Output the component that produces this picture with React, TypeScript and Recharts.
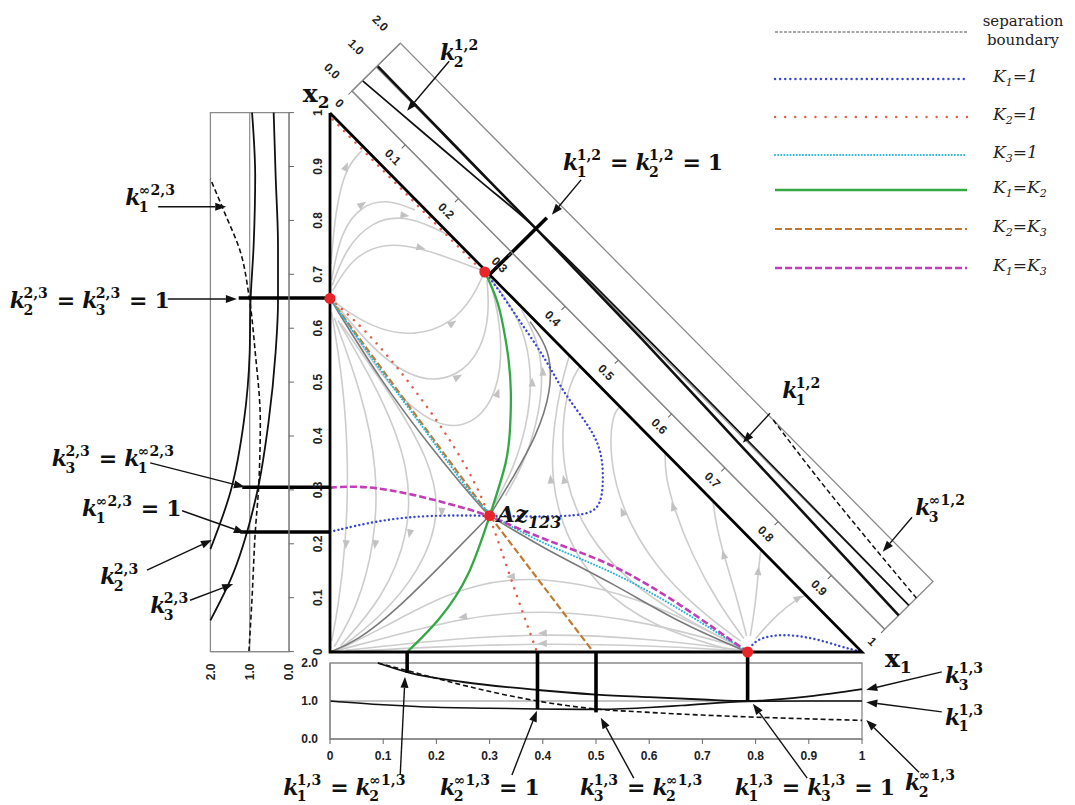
import React from 'react';
import {
  ComposedChart, Line, Scatter, XAxis, YAxis, ReferenceLine, ReferenceDot, ReferenceArea, Legend,
} from 'recharts';

// ---------- tick labels ----------
const TICKS_01 = [0, 0.1, 0.2, 0.3, 0.4, 0.5, 0.6, 0.7, 0.8, 0.9, 1];
const V_TICKS = [0, 1, 2];

// ---------- main ternary diagram (x1, x2) ----------
const TRIANGLE = [[0, 1], [0, 0], [1, 0], [0, 1]];
const AZEOTROPES = [[0, 0.656], [0.291, 0.705], [0.3, 0.253], [0.785, 0]];

const SEP_A = [[0, 0.656], [0.094, 0.505], [0.188, 0.381], [0.282, 0.27], [0.3, 0.253]];
const SEP_B = [[0.3, 0.253], [0.345, 0.325], [0.388, 0.4], [0.417, 0.486], [0.414, 0.56], [0.376, 0.613]];
const SEP_C = [[0.3, 0.253], [0.219, 0.171], [0.125, 0.078], [0.05, 0.02], [0, 0]];
const SEP_D = [[0.3, 0.253], [0.407, 0.189], [0.533, 0.127], [0.658, 0.053], [0.785, 0]];

const K1_EQ_1_A = [[0, 0.223], [0.094, 0.245], [0.188, 0.254], [0.3, 0.253], [0.376, 0.251], [0.45, 0.252], [0.489, 0.257], [0.508, 0.272], [0.514, 0.31], [0.512, 0.37], [0.489, 0.418], [0.439, 0.48], [0.407, 0.542], [0.351, 0.622], [0.313, 0.678], [0.291, 0.705]];
const K1_EQ_1_B = [[0.785, 0], [0.8, 0.025], [0.85, 0.034], [0.91, 0.026], [0.96, 0.01], [1, 0]];
const K2_EQ_1_A = [[0.005, 0.988], [0.288, 0.705]];
const K2_EQ_1_B = [[0, 0.656], [0.081, 0.585], [0.175, 0.468], [0.251, 0.356], [0.295, 0.27], [0.338, 0.14], [0.389, 0]];
const K3_EQ_1 = [[0, 0.656], [0.094, 0.523], [0.188, 0.4], [0.263, 0.294], [0.3, 0.253], [0.41, 0.196], [0.532, 0.15], [0.658, 0.08], [0.785, 0]];
const K1_EQ_K2 = [[0.291, 0.705], [0.315, 0.655], [0.326, 0.604], [0.337, 0.54], [0.341, 0.48], [0.339, 0.42], [0.335, 0.356], [0.3, 0.253], [0.263, 0.14], [0.207, 0.059], [0.145, 0]];
const K2_EQ_K3 = [[0, 0.656], [0.3, 0.253], [0.495, 0]];
const K1_EQ_K3 = [[0, 0.305], [0.063, 0.309], [0.156, 0.293], [0.25, 0.268], [0.3, 0.253], [0.407, 0.206], [0.532, 0.165], [0.66, 0.088], [0.785, 0]];

const STREAMLINES = [
  // right region
  [[0.745, 0.006], [0.61, 0.045], [0.5, 0.12], [0.44, 0.22], [0.415, 0.32], [0.42, 0.42], [0.435, 0.5], [0.45, 0.55]],
  [[0.765, 0.012], [0.66, 0.065], [0.56, 0.13], [0.48, 0.22], [0.44, 0.32], [0.435, 0.42], [0.45, 0.5], [0.47, 0.53]],
  [[0.772, 0.02], [0.69, 0.08], [0.61, 0.16], [0.55, 0.26], [0.525, 0.36], [0.53, 0.44], [0.545, 0.455]],
  [[0.778, 0.025], [0.73, 0.09], [0.68, 0.18], [0.645, 0.27], [0.63, 0.33], [0.63, 0.37]],
  [[0.783, 0.03], [0.765, 0.1], [0.74, 0.18], [0.725, 0.24], [0.72, 0.28]],
  [[0.79, 0.03], [0.8, 0.09], [0.805, 0.15], [0.81, 0.19]],
  [[0.8, 0.025], [0.84, 0.07], [0.88, 0.1], [0.895, 0.105]],
  // upper region
  [[0.01, 0.648], [0.08, 0.6], [0.16, 0.585], [0.23, 0.61], [0.27, 0.66], [0.288, 0.7]],
  [[0.015, 0.64], [0.09, 0.55], [0.17, 0.5], [0.24, 0.51], [0.285, 0.56], [0.3, 0.63], [0.295, 0.69]],
  [[0.02, 0.63], [0.11, 0.49], [0.2, 0.415], [0.27, 0.42], [0.315, 0.48], [0.325, 0.57], [0.31, 0.66], [0.296, 0.7]],
  [[0.31, 0.275], [0.345, 0.34], [0.37, 0.42], [0.38, 0.5], [0.37, 0.58], [0.34, 0.645], [0.3, 0.695]],
  [[0.33, 0.29], [0.37, 0.36], [0.395, 0.45], [0.4, 0.52], [0.39, 0.58], [0.36, 0.635]],
  // top-left corner
  [[0.005, 0.67], [0.04, 0.73], [0.1, 0.76], [0.17, 0.75], [0.24, 0.725], [0.285, 0.708]],
  [[0.004, 0.68], [0.03, 0.75], [0.08, 0.8], [0.14, 0.81], [0.2, 0.785], [0.23, 0.77]],
  [[0.003, 0.69], [0.02, 0.78], [0.06, 0.83], [0.11, 0.84], [0.16, 0.82]],
  [[0.002, 0.72], [0.01, 0.82], [0.03, 0.9], [0.06, 0.93]],
  // left region
  [[0.003, 0.63], [0.025, 0.5], [0.035, 0.35], [0.03, 0.2], [0.015, 0.08], [0.003, 0.02]],
  [[0.008, 0.62], [0.06, 0.48], [0.09, 0.34], [0.085, 0.2], [0.05, 0.08], [0.008, 0.01]],
  [[0.015, 0.615], [0.1, 0.47], [0.15, 0.34], [0.15, 0.22], [0.1, 0.1], [0.02, 0.012]],
  [[0.02, 0.61], [0.12, 0.47], [0.185, 0.36], [0.21, 0.26], [0.17, 0.15], [0.09, 0.06], [0.02, 0.008]],
  // bottom region
  [[0.775, 0.002], [0.6, 0.012], [0.4, 0.016], [0.2, 0.01], [0.04, 0.001]],
  [[0.77, 0.004], [0.6, 0.025], [0.4, 0.035], [0.2, 0.022], [0.03, 0.003]],
  [[0.765, 0.01], [0.6, 0.055], [0.42, 0.08], [0.25, 0.065], [0.1, 0.025], [0.01, 0.002]],
  [[0.76, 0.014], [0.62, 0.085], [0.47, 0.13], [0.34, 0.14], [0.22, 0.11], [0.1, 0.045], [0.015, 0.004]],
];

// ---------- bottom panel (binary 1-3, against x1) ----------
const B_K3 = [[0.09, 2.0], [0.15, 1.74], [0.25, 1.5], [0.39, 1.29], [0.5, 1.17], [0.6, 1.1], [0.7, 1.04], [0.785, 1.0], [0.9, 1.12], [1.0, 1.31]];
const B_K2INF = [[0.09, 2.0], [0.145, 1.8], [0.24, 1.45], [0.39, 1.0], [0.5, 0.79], [0.6, 0.7], [0.7, 0.63], [0.79, 0.58], [0.9, 0.53], [1.0, 0.49]];
const B_K1 = [[0, 1.0], [0.1, 0.9], [0.17, 0.85], [0.3, 0.81], [0.39, 0.79], [0.5, 0.78], [0.6, 0.83], [0.66, 0.88], [0.785, 0.99], [0.9, 1.0], [1.0, 1.0]];
const BOTTOM_BARS = [[0.145, 1.74], [0.39, 0.79], [0.5, 0.7], [0.785, 1.0]];

// ---------- left panel (binary 2-3, against x2) ----------
const L_K1INF = [[0, 1.02], [0.1, 0.94], [0.22, 0.86], [0.309, 0.77], [0.426, 0.73], [0.556, 0.86], [0.661, 1.02], [0.74, 1.23], [0.818, 1.66], [0.877, 2.0]];
const L_K2 = [[0.19, 2.0], [0.296, 1.49], [0.426, 1.15], [0.556, 1.0], [0.648, 0.98], [0.753, 0.9], [0.883, 0.86], [1.0, 0.94]];
const L_K3 = [[0.058, 2.0], [0.133, 1.49], [0.296, 0.81], [0.426, 0.52], [0.556, 0.34], [0.648, 0.28], [0.753, 0.28], [0.883, 0.34], [1.0, 0.39]];
const LEFT_BARS = [[0.656, 1.28], [0.305, 1.19], [0.222, 1.24]];

// ---------- diagonal panel (binary 1-2, along the x1+x2=1 side) ----------
const T_K2 = [[0, 0.43], [0.1, 0.62], [0.2, 0.81], [0.3, 1.0], [0.4, 1.04], [0.6, 1.05], [0.8, 1.03], [1.0, 1.0]];
const T_K1 = [[0, 1.05], [0.1, 1.03], [0.2, 1.01], [0.3, 1.0], [0.5, 0.93], [0.69, 0.8], [0.85, 0.69], [1.0, 0.58]];
const T_K3INF = [[0.7, 2.0], [0.8, 1.72], [0.9, 1.5], [1.0, 1.31]];
const TOP_BARS = [[0.3, 1.45]];

// ---------- annotations (main diagram coordinates) ----------
type Tok = string | [string, string];
const LABELS: { x: number; y: number; toks: Tok[] }[] = [
  { x: 0.207, y: 1.098, toks: [['2', '1,2']] },
  { x: 0.438, y: 0.894, toks: [['1', '1,2'], '=', ['2', '1,2'], '=', '1'] },
  { x: 0.85, y: 0.471, toks: [['1', '1,2']] },
  { x: 1.1, y: 0.254, toks: [['3', '∞1,2']] },
  { x: -0.385, y: 0.829, toks: [['1', '∞2,3']] },
  { x: -0.602, y: 0.638, toks: [['2', '2,3'], '=', ['3', '2,3'], '=', '1'] },
  { x: -0.523, y: 0.345, toks: [['3', '2,3'], '=', ['1', '∞2,3']] },
  { x: -0.466, y: 0.252, toks: [['1', '∞2,3'], '=', '1'] },
  { x: -0.432, y: 0.126, toks: [['2', '2,3']] },
  { x: -0.338, y: 0.072, toks: [['3', '2,3']] },
  { x: -0.088, y: -0.265, toks: [['1', '1,3'], '=', ['2', '∞1,3']] },
  { x: 0.207, y: -0.265, toks: [['2', '∞1,3'], '=', '1'] },
  { x: 0.47, y: -0.265, toks: [['3', '1,3'], '=', ['2', '∞1,3']] },
  { x: 0.761, y: -0.265, toks: [['1', '1,3'], '=', ['3', '1,3'], '=', '1'] },
  { x: 1.081, y: -0.256, toks: [['2', '∞1,3']] },
  { x: 1.156, y: -0.135, toks: [['1', '1,3']] },
  { x: 1.156, y: -0.058, toks: [['3', '1,3']] },
];
const ARROWS = [
  [0.224, 1.096, 0.145, 1.004], [0.472, 0.876, 0.417, 0.811], [0.827, 0.443, 0.776, 0.388], [1.094, 0.25, 1.039, 0.186],
  [-0.323, 0.826, -0.195, 0.826], [-0.305, 0.655, -0.175, 0.655], [-0.338, 0.351, -0.16, 0.306], [-0.278, 0.262, -0.16, 0.221],
  [-0.344, 0.152, -0.222, 0.208], [-0.263, 0.096, -0.182, 0.126],
  [0.132, -0.228, 0.141, -0.046], [0.342, -0.228, 0.389, -0.109], [0.571, -0.234, 0.509, -0.122], [0.897, -0.234, 0.795, -0.096],
  [1.107, -0.223, 1.008, -0.126], [1.15, -0.111, 1.008, -0.093], [1.15, -0.037, 1.008, -0.07],
];

const LEGEND_ITEMS = [
  { name: 'separation|boundary', color: '#8c8c8c', dash: '3 1.5', width: 1.3, cap: 'butt' },
  { name: 'K_1=1', color: '#3a48d0', dash: '0.1 5', width: 2.4, cap: 'round' },
  { name: 'K_2=1', color: '#e0604a', dash: '0.1 10', width: 2.4, cap: 'round' },
  { name: 'K_3=1', color: '#2bb3d9', dash: '0.1 3', width: 2, cap: 'round' },
  { name: 'K_1=K_2', color: '#34a844', dash: undefined, width: 2.3, cap: 'butt' },
  { name: 'K_2=K_3', color: '#c27a32', dash: '7 3', width: 2.1, cap: 'butt' },
  { name: 'K_1=K_3', color: '#c23db6', dash: '7 3', width: 2.4, cap: 'butt' },
];

// ---------- helpers ----------
const xy = (a: number[][]) => a.map(([x, y]) => ({ x, y }));
const tv = (a: number[][]) => a.map(([t, v]) => ({ t, v }));
const fmt01 = (v: number) => (v === 0 ? '0' : v === 1 ? '1' : v.toFixed(1));
const TICK_FONT = { fontSize: 12, fontWeight: 700, fontFamily: 'Liberation Sans, Arial, sans-serif', fill: '#222' };
const SERIF = 'DejaVu Serif, serif';

const CW: Record<string, number> = { ',': 0.38, '∞': 0.84, '=': 0.838, ' ': 0.348 };
const tw = (s: string, f: number) => s.split('').reduce((a, c) => a + (CW[c] ?? 0.696) * f, 0);

function MathLabel({ x, y, toks, fs = 22 }: { x: number; y: number; toks: Tok[]; fs?: number }) {
  const sfs = fs * 0.64;
  let cx = x;
  const out: React.ReactNode[] = [];
  toks.forEach((tk, i) => {
    if (Array.isArray(tk)) {
      out.push(<text key={i + 'k'} x={cx} y={y} fontSize={fs} fontStyle="italic" fontWeight={700}>k</text>);
      cx += fs * 0.62;
      out.push(<text key={i + 'p'} x={cx} y={y - fs * 0.45} fontSize={sfs} fontWeight={700}>{tk[1]}</text>);
      out.push(<text key={i + 'b'} x={cx} y={y + fs * 0.3} fontSize={sfs} fontWeight={700}>{tk[0]}</text>);
      cx += Math.max(tw(tk[0], sfs), tw(tk[1], sfs)) + fs * 0.06;
    } else if (tk === '=') {
      cx += fs * 0.32;
      out.push(<text key={i + 'e'} x={cx} y={y} fontSize={fs} fontWeight={700}>=</text>);
      cx += fs * (0.838 + 0.32);
    } else {
      out.push(<text key={i + 't'} x={cx} y={y} fontSize={fs} fontWeight={700}>{tk}</text>);
      cx += tw(tk, fs);
    }
  });
  return <g fontFamily={SERIF} fill="#111">{out}</g>;
}

function ArrowShape(p: any) {
  const { x1, y1, x2, y2 } = p;
  const a = Math.atan2(y2 - y1, x2 - x1);
  const hl = 11, hw = 4;
  const bx = x2 - hl * Math.cos(a), by = y2 - hl * Math.sin(a);
  const pts = `${x2},${y2} ${bx - hw * Math.sin(a)},${by + hw * Math.cos(a)} ${bx + hw * Math.sin(a)},${by - hw * Math.cos(a)}`;
  return (
    <g>
      <line x1={x1} y1={y1} x2={bx} y2={by} stroke="#111" strokeWidth={1.4} />
      <polygon points={pts} fill="#111" />
    </g>
  );
}

function arrowDot(line: number[][]) {
  const mid = Math.floor(line.length / 2);
  const a = line[Math.max(0, mid - 1)];
  const b = line[Math.min(line.length - 1, mid + 1)];
  const ang = (Math.atan2(-(b[1] - a[1]), b[0] - a[0]) * 180) / Math.PI;
  return (props: any) => {
    const { cx, cy, index } = props;
    if (index !== mid || cx == null) return <g key={`s${index}`} />;
    return <polygon key={`s${index}`} points="5,0 -4,-3.6 -4,3.6" transform={`translate(${cx},${cy}) rotate(${ang})`} fill="#c2c2c2" />;
  };
}

function renderLegend() {
  const ys = [32, 79, 117, 155, 190, 229, 268];
  return (
    <svg width={305} height={290}>
      {LEGEND_ITEMS.map((it, i) => {
        const y = ys[i];
        let label: React.ReactNode;
        if (it.name.includes('|')) {
          const [a, b] = it.name.split('|');
          label = (
            <text x={253} y={y - 6} fontFamily={SERIF} fontSize={15} textAnchor="middle" fill="#222">
              <tspan x={253}>{a}</tspan>
              <tspan x={253} dy={19}>{b}</tspan>
            </text>
          );
        } else {
          const parts = it.name.split(/(_\d)/).filter(Boolean);
          label = (
            <text x={223} y={y + 3} fontFamily={SERIF} fontStyle="italic" fontSize={17} fill="#222">
              {parts.map((p, j) =>
                p.startsWith('_') ? (
                  <tspan key={j} fontSize={11} dy={4}>{p.slice(1)}</tspan>
                ) : (
                  <tspan key={j} dy={j > 0 ? -4 : 0}>{p}</tspan>
                ),
              )}
            </text>
          );
        }
        return (
          <g key={i}>
            <line x1={5} x2={197} y1={y} y2={y} stroke={it.color} strokeWidth={it.width} strokeDasharray={it.dash} strokeLinecap={it.cap as any} />
            {label}
          </g>
        );
      })}
    </svg>
  );
}

// ---------- side panels (rotated copies of the same binary plot) ----------
type Curve = { data: number[][]; dash?: string; width: number };
function Panel(props: {
  L: number; H: number; theta: number; px: number; py: number;
  curves: Curve[]; bars: number[][]; base: number; xMargin: number; yMargin: number;
}) {
  const { L, H, theta, px, py, curves, bars, base, xMargin, yMargin } = props;
  const YW = 40, XH = 40, MT = 10, MR = 10;
  const W = YW + L + MR;
  const HC = MT + H + XH;
  const ox = YW, oy = MT + H;
  return (
    <div style={{ position: 'absolute', left: px - ox, top: py - oy, width: W, height: HC, transformOrigin: `${ox}px ${oy}px`, transform: `rotate(${theta}deg)` }}>
      <ComposedChart width={W} height={HC} margin={{ top: MT, right: MR, bottom: 0, left: 0 }}>
        <XAxis type="number" dataKey="t" domain={[0, 1]} ticks={TICKS_01} interval={0} tickFormatter={fmt01}
          tickSize={5} tickMargin={xMargin} height={XH} axisLine={{ stroke: '#8a8a8a', strokeWidth: 1.3 }}
          tickLine={{ stroke: '#666' }} tick={TICK_FONT} />
        <YAxis type="number" domain={[0, 2]} ticks={V_TICKS} interval={0} tickFormatter={(v: number) => v.toFixed(1)}
          width={YW} tickSize={0} tickMargin={yMargin} axisLine={{ stroke: '#8a8a8a', strokeWidth: 1.3 }} tickLine={false} tick={TICK_FONT} />
        <ReferenceArea x1={0} x2={1} y1={0} y2={2} fill="none" fillOpacity={0} stroke="#8a8a8a" strokeWidth={1.3} ifOverflow="visible" />
        <ReferenceLine y={1} stroke="#8a8a8a" strokeWidth={1.2} />
        {curves.map((c, i) => (
          <Line key={i} data={tv(c.data)} dataKey="v" type="monotone" stroke="#111" strokeWidth={c.width}
            strokeDasharray={c.dash} dot={false} activeDot={false} isAnimationActive={false} />
        ))}
        {bars.map((b, i) => (
          <ReferenceLine key={'b' + i} segment={[{ x: b[0], y: base }, { x: b[0], y: b[1] }]} stroke="#000" strokeWidth={3.6} ifOverflow="visible" />
        ))}
      </ComposedChart>
    </div>
  );
}

const MAIN_LINES = [
  ...[SEP_A, SEP_B, SEP_C, SEP_D].map((d) => ({ d, c: '#7a7a7a', w: 1.6, dash: undefined as string | undefined, cap: 'butt' })),
  { d: K2_EQ_K3, c: '#c27a32', w: 2.2, dash: '7 3', cap: 'butt' },
  { d: K2_EQ_1_A, c: '#e0604a', w: 2.5, dash: '0.1 8', cap: 'round' },
  { d: K2_EQ_1_B, c: '#e0604a', w: 2.5, dash: '0.1 8', cap: 'round' },
  { d: K3_EQ_1, c: '#2bb3d9', w: 2, dash: '0.1 3', cap: 'round' },
  { d: K1_EQ_1_A, c: '#3a48d0', w: 2.4, dash: '0.1 4.2', cap: 'round' },
  { d: K1_EQ_1_B, c: '#3a48d0', w: 2.4, dash: '0.1 4.2', cap: 'round' },
  { d: K1_EQ_K3, c: '#c23db6', w: 2.6, dash: '7 3', cap: 'butt' },
  { d: K1_EQ_K2, c: '#34a844', w: 2.3, dash: undefined, cap: 'butt' },
];

export default function App() {
  return (
    <div style={{ position: 'absolute', left: 0, top: 0, width: 1075, height: 805, background: '#fff', overflow: 'hidden' }}>
      <style>{'body{margin:0;overflow:hidden;background:#fff}'}</style>

      <Panel L={532} H={76} theta={0} px={330} py={739} base={2.29} xMargin={7} yMargin={12}
        curves={[{ data: B_K3, width: 1.8 }, { data: B_K2INF, width: 1.6, dash: '5 3' }, { data: B_K1, width: 1.6 }]}
        bars={BOTTOM_BARS} />
      <Panel L={539} H={78.6} theta={-90} px={288.6} py={652} base={-1.053} xMargin={19} yMargin={12}
        curves={[{ data: L_K2, width: 1.8 }, { data: L_K3, width: 1.8 }, { data: L_K1INF, width: 1.6, dash: '5 3' }]}
        bars={LEFT_BARS} />
      <Panel L={757.3} H={68} theta={45.3} px={352} py={91.2} base={-0.912} xMargin={8} yMargin={20}
        curves={[{ data: T_K1, width: 2.6 }, { data: T_K2, width: 1.7 }, { data: T_K3INF, width: 1.5, dash: '5 3' }]}
        bars={TOP_BARS} />

      <div style={{ position: 'absolute', left: 0, top: 0 }}>
        <ComposedChart width={1075} height={805} margin={{ top: 113, right: 213, bottom: 153, left: 330 }}>
          <XAxis type="number" dataKey="x" domain={[0, 1]} hide />
          <YAxis type="number" dataKey="y" domain={[0, 1]} hide />
          <Legend layout="vertical" align="center" verticalAlign="middle" content={renderLegend}
            wrapperStyle={{ left: 770, top: 0, width: 305, height: 290 }} />
          {STREAMLINES.map((s, i) => (
            <Line key={'s' + i} data={xy(s)} dataKey="y" type="basis" stroke="#cdcdcd" strokeWidth={1.6}
              dot={arrowDot(s)} activeDot={false} isAnimationActive={false} />
          ))}
          {MAIN_LINES.map((l, i) => (
            <Line key={'m' + i} data={xy(l.d)} dataKey="y" type={l.d.length > 3 ? 'basis' : 'linear'} stroke={l.c}
              strokeWidth={l.w} strokeDasharray={l.dash} strokeLinecap={l.cap as any} dot={false} activeDot={false} isAnimationActive={false} />
          ))}
          <Line data={xy(TRIANGLE)} dataKey="y" type="linear" stroke="#000" strokeWidth={2.8} dot={false} activeDot={false} isAnimationActive={false} />
          <Scatter data={xy(AZEOTROPES)} dataKey="y" isAnimationActive={false}
            shape={(p: any) => <circle cx={p.cx} cy={p.cy} r={5.5} fill="#e8262a" />} />
          {ARROWS.map((a, i) => (
            <ReferenceLine key={'a' + i} segment={[{ x: a[0], y: a[1] }, { x: a[2], y: a[3] }]} ifOverflow="visible" shape={ArrowShape} />
          ))}
          {LABELS.map((l, i) => (
            <ReferenceDot key={'l' + i} x={l.x} y={l.y} r={0} ifOverflow="visible"
              shape={(p: any) => <MathLabel x={p.cx} y={p.cy} toks={l.toks} />} />
          ))}
          <ReferenceDot x={0.314} y={0.241} r={0} ifOverflow="visible"
            shape={(p: any) => (
              <text x={p.cx} y={p.cy} fontFamily={SERIF} fontWeight={700} fontStyle="italic" fontSize={23} fill="#111">
                Az<tspan fontSize={16} dy={6}>123</tspan>
              </text>
            )} />
          <ReferenceDot x={-0.051} y={1.02} r={0} ifOverflow="visible"
            shape={(p: any) => (
              <text x={p.cx} y={p.cy} fontFamily={SERIF} fontWeight={700} fontSize={25} fill="#111">
                x<tspan fontSize={17} dy={6}>2</tspan>
              </text>
            )} />
          <ReferenceDot x={1.043} y={-0.028} r={0} ifOverflow="visible"
            shape={(p: any) => (
              <text x={p.cx} y={p.cy} fontFamily={SERIF} fontWeight={700} fontSize={25} fill="#111">
                x<tspan fontSize={17} dy={6}>1</tspan>
              </text>
            )} />
        </ComposedChart>
      </div>
    </div>
  );
}
